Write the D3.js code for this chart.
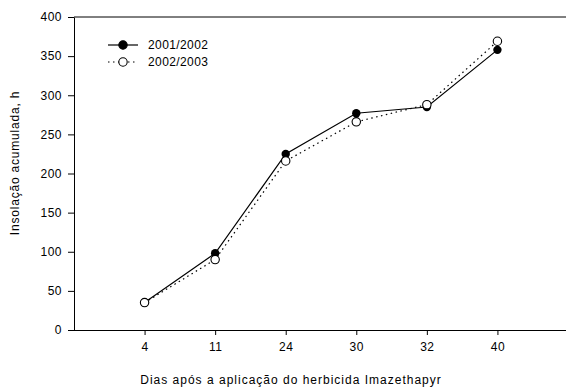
<!DOCTYPE html>
<html>
<head>
<meta charset="utf-8">
<script src="https://cdn.jsdelivr.net/npm/d3@7"></script>
<style>
  body { margin: 0; background: #fff; }
  text { font-family: "Liberation Sans", Arial, sans-serif; fill: #000; }
</style>
</head>
<body>
<svg id="chart" width="566" height="388"></svg>
<script>
// data
const days = ['4', '11', '24', '30', '32', '40'];
const season1 = [35, 98, 225, 277, 285, 358];   // 2001/2002
const season2 = [35, 90, 216, 266, 288, 369];   // 2002/2003
const yTicks = [0, 50, 100, 150, 200, 250, 300, 350, 400];
const seriesNames = ['2001/2002', '2002/2003'];

const svg = d3.select('#chart');
const margin = { top: 17, left: 74, bottom: 58 };
const H = 388;

// categories sit at equal steps, index 1..6 on a 0..7 range
const x = d3.scaleLinear().domain([0, 7]).range([margin.left, 568]);
const y = d3.scaleLinear().domain([0, 400]).range([H - margin.bottom, margin.top]);

// frame: top line + bottom axis line + left axis line
svg.append('line')
  .attr('x1', margin.left).attr('x2', 566)
  .attr('y1', y(400)).attr('y2', y(400))
  .attr('stroke', '#000').attr('stroke-width', 1);

const yAxis = d3.axisLeft(y).tickValues(yTicks).tickSize(6).tickPadding(6).tickSizeOuter(0);
const gy = svg.append('g')
  .attr('transform', `translate(${margin.left},0)`)
  .call(yAxis);
gy.select('.domain').attr('stroke', '#000');
gy.selectAll('text').style('font-size', '12px').style('letter-spacing', '0.5px');

const xAxis = d3.axisBottom(x)
  .tickValues(d3.range(1, days.length + 1))
  .tickFormat(i => days[i - 1])
  .tickSize(5).tickPadding(7).tickSizeOuter(0);
const gx = svg.append('g')
  .attr('transform', `translate(0,${y(0)})`)
  .call(xAxis);
gx.select('.domain').attr('d', `M${margin.left},0.5H566`).attr('stroke', '#000');
gx.selectAll('text').style('font-size', '12px').style('letter-spacing', '0.5px');

// axis titles
svg.append('text')
  .attr('x', 291).attr('y', 384)
  .attr('text-anchor', 'middle')
  .style('font-size', '12px').style('letter-spacing', '1px')
  .text('Dias após a aplicação do herbicida Imazethapyr');

svg.append('text')
  .attr('transform', 'translate(19,163) rotate(-90)')
  .attr('text-anchor', 'middle')
  .style('font-size', '12px').style('letter-spacing', '0.8px')
  .text('Insolação acumulada, h');

// lines
const line = d3.line().x((d, i) => x(i + 1)).y(d => y(d));

svg.append('path').datum(season2)
  .attr('d', line).attr('fill', 'none')
  .attr('stroke', '#000').attr('stroke-width', 1.2)
  .attr('stroke-dasharray', '1.5,3.5');

svg.append('path').datum(season1)
  .attr('d', line).attr('fill', 'none')
  .attr('stroke', '#000').attr('stroke-width', 1.2);

// markers
svg.append('g').selectAll('circle').data(season1).join('circle')
  .attr('cx', (d, i) => x(i + 1)).attr('cy', d => y(d))
  .attr('r', 4.2).attr('fill', '#000');

svg.append('g').selectAll('circle').data(season2).join('circle')
  .attr('cx', (d, i) => x(i + 1)).attr('cy', d => y(d))
  .attr('r', 4.2).attr('fill', '#fff').attr('stroke', '#000').attr('stroke-width', 1.1);

// legend
const legend = svg.append('g').attr('transform', 'translate(108,45)');
seriesNames.forEach((name, i) => {
  const row = legend.append('g').attr('transform', `translate(0,${i * 17})`);
  row.append('line')
    .attr('x1', 0).attr('x2', 30).attr('y1', 0).attr('y2', 0)
    .attr('stroke', '#000').attr('stroke-width', 1.2)
    .attr('stroke-dasharray', i === 0 ? null : '1.5,3.5');
  row.append('circle')
    .attr('cx', 15).attr('cy', 0).attr('r', 4.2)
    .attr('fill', i === 0 ? '#000' : '#fff')
    .attr('stroke', '#000').attr('stroke-width', 1.1);
  row.append('text')
    .attr('x', 40).attr('y', 4)
    .style('font-size', '12px').style('letter-spacing', '0.4px')
    .text(name);
});
</script>
</body>
</html>
